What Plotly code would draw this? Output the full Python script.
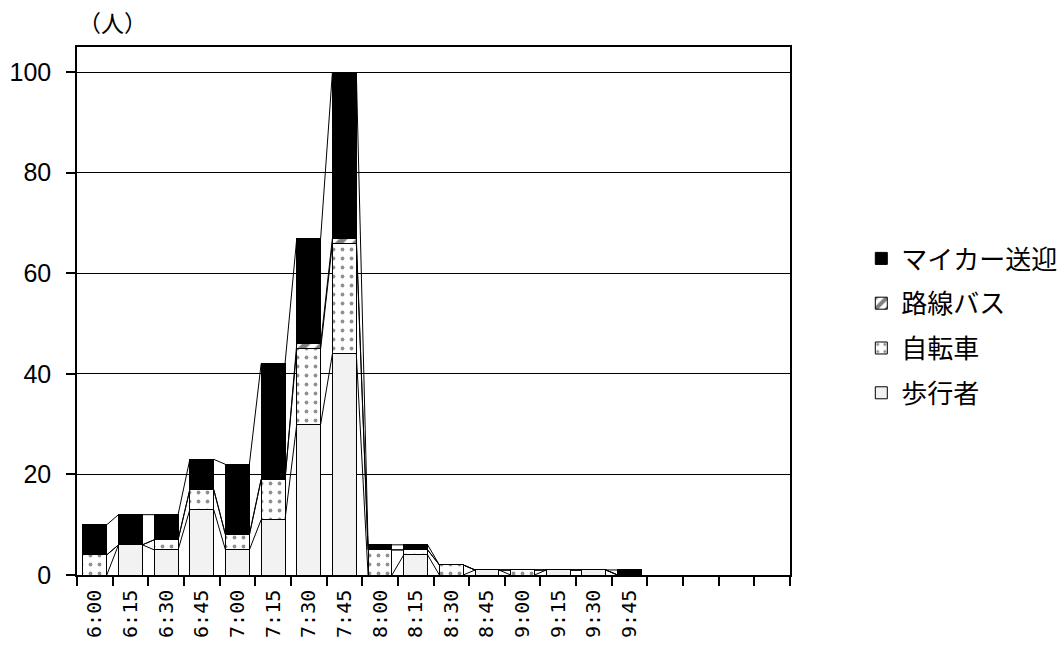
import plotly.graph_objects as go

# Arrival counts per 15-minute slot, stacked by means of travel
time_labels = ["6:00", "6:15", "6:30", "6:45", "7:00", "7:15", "7:30", "7:45",
               "8:00", "8:15", "8:30", "8:45", "9:00", "9:15", "9:30", "9:45"]
n_slots = 20  # axis reserves four empty slots after the last time

walk = [0, 6, 5, 13, 5, 11, 30, 44, 0, 4, 0, 1, 0, 1, 1, 0]
bike = [4, 0, 2, 4, 3, 8, 15, 22, 5, 1, 2, 0, 1, 0, 0, 0]
bus = [0, 0, 0, 0, 0, 0, 1, 1, 0, 0, 0, 0, 0, 0, 0, 0]
car = [6, 6, 5, 6, 14, 23, 21, 33, 1, 1, 0, 0, 0, 0, 0, 1]

series_names = ["歩行者", "自転車", "路線バス", "マイカー送迎"]
series_values = [walk, bike, bus, car]

BAR_W = 0.67
NUM_FONT = "Liberation Sans, Arial, Noto Sans CJK JP, sans-serif"
MONO_FONT = "DejaVu Sans Mono, monospace"
JP_FONT = "Noto Sans CJK JP, sans-serif"

styles = [
    dict(color="#f2f2f2"),
    dict(color="white", pattern=dict(shape=".", fgcolor="#222222", bgcolor="white",
                                     size=9, solidity=0.14, fillmode="overlay")),
    dict(color="white", pattern=dict(shape="/", fgcolor="black", bgcolor="white",
                                     size=12, solidity=0.5, fillmode="overlay")),
    dict(color="black"),
]

xs = list(range(len(time_labels)))
fig = go.Figure()

# legend lists the top segment first
for rank, (name, vals, st) in enumerate(zip(series_names, series_values, styles)):
    fig.add_trace(go.Bar(
        x=xs, y=vals, name=name, width=BAR_W, legendgroup=name,
        legendrank=len(series_names) - rank,
        marker=dict(line=dict(color="black", width=1), **st),
    ))

# Series lines joining each segment top between neighbouring bars
cum = [0] * len(xs)
for vals in series_values:
    cum = [c + v for c, v in zip(cum, vals)]
    lx, ly = [], []
    for i in range(len(xs) - 1):
        lx += [xs[i] + BAR_W / 2, xs[i + 1] - BAR_W / 2, None]
        ly += [cum[i], cum[i + 1], None]
    fig.add_trace(go.Scatter(x=lx, y=ly, mode="lines", showlegend=False,
                             hoverinfo="skip",
                             line=dict(color="black", width=1)))

fig.update_layout(
    width=1059, height=653,
    margin=dict(l=77, r=269, t=47, b=78, autoexpand=False),
    barmode="stack",
    plot_bgcolor="white", paper_bgcolor="white",
    showlegend=True,
    legend=dict(
        x=1.1, xanchor="left", y=0.4716, yanchor="middle",
        traceorder="grouped", tracegroupgap=8,
        font=dict(family=JP_FONT, size=26, color="black"),
        bgcolor="rgba(0,0,0,0)",
    ),
    xaxis=dict(
        range=[-0.5, n_slots - 0.5],
        tickmode="array", tickvals=xs, ticktext=time_labels,
        tickangle=-90, ticks="", ticklabelstandoff=5,
        tickfont=dict(family=MONO_FONT, size=20, color="black"),
        minor=dict(tickmode="linear", tick0=-0.5, dtick=1, ticks="outside",
                   ticklen=9, tickwidth=1.5, tickcolor="black", showgrid=False),
        showline=True, linecolor="black", linewidth=1.5, mirror=True,
        showgrid=False, zeroline=False,
    ),
    yaxis=dict(
        range=[0, 105], tickmode="array", tickvals=[0, 20, 40, 60, 80, 100],
        ticks="outside", ticklen=9, tickwidth=1.5, tickcolor="black",
        ticklabelstandoff=10,
        tickfont=dict(family=NUM_FONT, size=25, color="black"),
        showgrid=True, gridcolor="black", gridwidth=1.3,
        showline=True, linecolor="black", linewidth=1.5, mirror=True,
        zeroline=False,
    ),
    annotations=[dict(
        text="（人）", xref="paper", yref="paper",
        x=0.05, y=1.047, xanchor="center", yanchor="middle", showarrow=False,
        font=dict(family=JP_FONT, size=23, color="black"),
    )],
)

fig.write_html("out.html")
